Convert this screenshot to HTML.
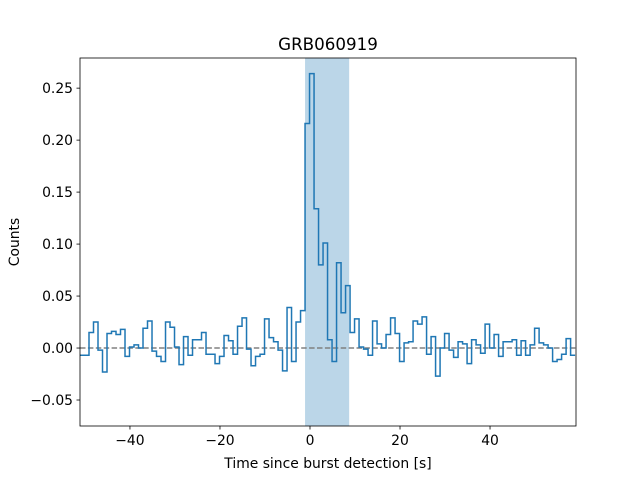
<!DOCTYPE html>
<html><head><meta charset="utf-8"><style>body{margin:0;background:#fff}svg{display:block;font-family:"DejaVu Sans","Liberation Sans",sans-serif}</style></head>
<body>
<svg id="chart" width="640" height="480" viewBox="0 0 640 480">
<rect width="640" height="480" fill="#fff"/>
<g id="plot"></g>
</svg>
<script>
const binStart = -51.1;
const binWidth = 1.0;
const counts = [-0.007,-0.007,0.015,0.025,-0.002,-0.023,0.014,0.016,0.013,0.018,-0.008,0.001,0.003,0,0.019,0.026,-0.003,-0.008,-0.013,0.025,0.020,0.001,-0.016,0.011,-0.007,0.008,0.008,0.015,-0.006,-0.006,-0.015,-0.008,0.012,0.007,-0.006,0.021,0.029,-0.001,-0.017,-0.008,-0.006,0.028,0.010,0.006,-0.002,-0.022,0.039,-0.013,0.025,0.036,0.216,0.264,0.134,0.080,0.101,0.008,-0.013,0.082,0.034,0.060,0.015,0.028,0.001,-0.001,-0.007,0.026,0.004,0,0.013,0.029,0.014,-0.013,0.005,0.006,0.026,0.023,0.030,-0.006,0.011,-0.027,0,0.014,-0.002,-0.009,0.006,0.004,-0.015,0.008,0.003,-0.005,0.023,0,0.013,-0.008,0.006,0.006,0.008,-0.007,0.007,-0.007,0.003,0.019,0.005,0.003,0,-0.013,-0.011,-0.006,0.009,-0.007];
const span = [-1.1, 8.7];
const xTicks = [-40,-20,0,20,40];
const yTicks = [-0.05,0,0.05,0.10,0.15,0.20,0.25];
const yTickLabels = ["−0.05","0.00","0.05","0.10","0.15","0.20","0.25"];
const xTickLabels = ["−40","−20","0","20","40"];
const xlim = [-51.1, 59.1], ylim = [-0.075, 0.279];
const L=80,R=576,T=58,B=426;
const sx = v => L + (v - xlim[0])/(xlim[1]-xlim[0])*(R-L);
const sy = v => B - (v - ylim[0])/(ylim[1]-ylim[0])*(B-T);
const NS="http://www.w3.org/2000/svg";
const g=document.getElementById('plot');
function mk(tag,attrs,parent){const e=document.createElementNS(NS,tag);for(const k in attrs)e.setAttribute(k,attrs[k]);(parent||g).appendChild(e);return e;}
const defs=mk('clipPath',{id:'clip'});mk('rect',{x:L,y:T,width:R-L,height:B-T},defs);
const sp=mk('rect',{x:sx(span[0]),y:T,width:sx(span[1])-sx(span[0]),height:B-T,fill:'#1f77b4','fill-opacity':0.3});


const zl=mk('line',{x1:L,x2:R,y1:sy(0),y2:sy(0),stroke:'#808080','stroke-width':1.5,'stroke-dasharray':'5.5,2.4'});


let d='';
counts.forEach((c,i)=>{const x0=sx(binStart+i*binWidth),x1=sx(binStart+(i+1)*binWidth),y=sy(c);d+=(i===0?'M':'L')+x0+','+y+'L'+x1+','+y;});
const st=mk('path',{d:d,fill:'none',stroke:'#1f77b4','stroke-width':1.5,'clip-path':'url(#clip)'});


const fr=mk('rect',{x:L,y:T,width:R-L,height:B-T,fill:'none',stroke:'#000','stroke-width':0.8});


xTicks.forEach((t,i)=>{const x=sx(t);mk('line',{x1:x,x2:x,y1:B,y2:B+3.5,stroke:'#000','stroke-width':0.8});
const tx=mk('text',{x:x,y:B+19,'text-anchor':'middle','font-size':13.9,fill:'#000'});tx.textContent=xTickLabels[i];

});
yTicks.forEach((t,i)=>{const y=sy(t);mk('line',{x1:L-3.5,x2:L,y1:y,y2:y,stroke:'#000','stroke-width':0.8});
const tx=mk('text',{x:L-7,y:y+5,'text-anchor':'end','font-size':13.9,fill:'#000'});tx.textContent=yTickLabels[i];

});
const ti=mk('text',{x:328,y:50,'text-anchor':'middle','font-size':16.7});ti.textContent='GRB060919';


const xl=mk('text',{x:328,y:468,'text-anchor':'middle','font-size':13.9});xl.textContent='Time since burst detection [s]';


const yl=mk('text',{x:19,y:242,'text-anchor':'middle','font-size':13.9,transform:'rotate(-90 19 242)'});yl.textContent='Counts';


</script>
</body></html>
